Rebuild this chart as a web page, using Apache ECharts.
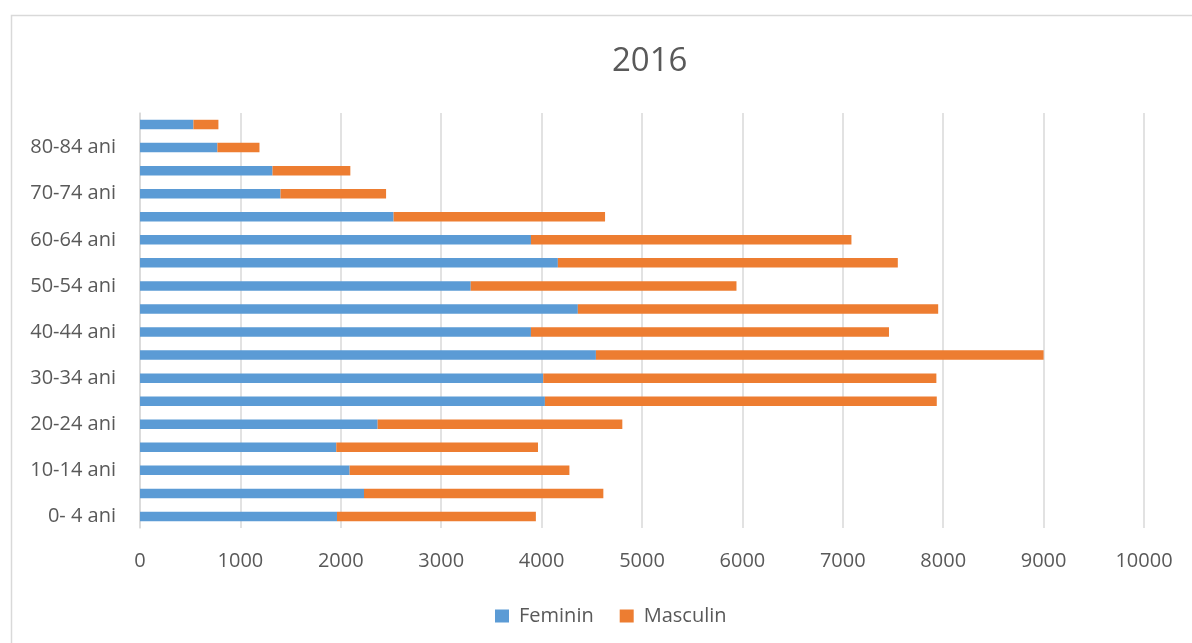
<!DOCTYPE html>
<html>
<head>
<meta charset="utf-8">
<script src="https://cdn.jsdelivr.net/npm/echarts@6/dist/echarts.min.js"></script>
<style>
html,body{margin:0;padding:0;background:#fff;}
#c{width:1192px;height:643px;}
</style>
</head>
<body>
<div id="c"></div>
<script>
const categories = ["0- 4 ani","5- 9 ani","10-14 ani","15-19 ani","20-24 ani","25-29 ani","30-34 ani","35-39 ani","40-44 ani","45-49 ani","50-54 ani","55-59 ani","60-64 ani","65-69 ani","70-74 ani","75-79 ani","80-84 ani","85+ ani"];
const feminin = [1962,2231,2088,1955,2367,4033,4016,4541,3894,4361,3294,4162,3894,2526,1400,1320,771,532];
const masculin = [1981,2384,2189,2009,2437,3903,3916,4459,3566,3589,2647,3386,3192,2106,1051,775,419,249];
const xTicks = {min:0, max:10000, interval:1000};
const titleText = "2016";

const chart = echarts.init(document.getElementById('c'), null, {renderer:'canvas'});
const txt = '#595959';
const font = "'Open Sans', 'Liberation Sans', sans-serif";
chart.setOption({
  animation:false,
  backgroundColor:'#fff',
  graphic:[{type:'rect', left:9, top:13, shape:{width:1400,height:800}, style:{fill:'none', stroke:'#D9D9D9', lineWidth:1.5}, silent:true}],
  title:{text:titleText, left:607, top:40, textStyle:{fontFamily:font, fontSize:33, fontWeight:'normal', color:txt}},
  legend:{top:601, left:490, itemWidth:14, itemHeight:13, itemGap:26, icon:'rect',
    textStyle:{fontFamily:font, fontSize:20, color:txt, padding:[0,0,0,5]}, data:['Feminin','Masculin']},
  grid:{left:140, right:48, top:113, bottom:115, containLabel:false},
  xAxis:{type:'value', min:xTicks.min, max:xTicks.max, interval:xTicks.interval,
    axisLine:{show:false}, axisTick:{show:false},
    axisLabel:{fontFamily:font, fontSize:20, color:txt, margin:23, formatter:function(v){return String(v);}},
    splitLine:{show:true, lineStyle:{color:'#D9D9D9', width:1.5}}},
  yAxis:{type:'category', data:categories,
    axisLine:{show:true, lineStyle:{color:'#D9D9D9', width:1.5}}, axisTick:{show:false},
    axisLabel:{interval:1, fontFamily:font, fontSize:20, color:txt, margin:24}},
  series:[
    {name:'Feminin', type:'bar', stack:'t', data:feminin, barWidth:9.5, itemStyle:{color:'#5B9BD5'}},
    {name:'Masculin', type:'bar', stack:'t', data:masculin, barWidth:9.5, itemStyle:{color:'#ED7D31'}}
  ]
});
</script>
</body>
</html>
